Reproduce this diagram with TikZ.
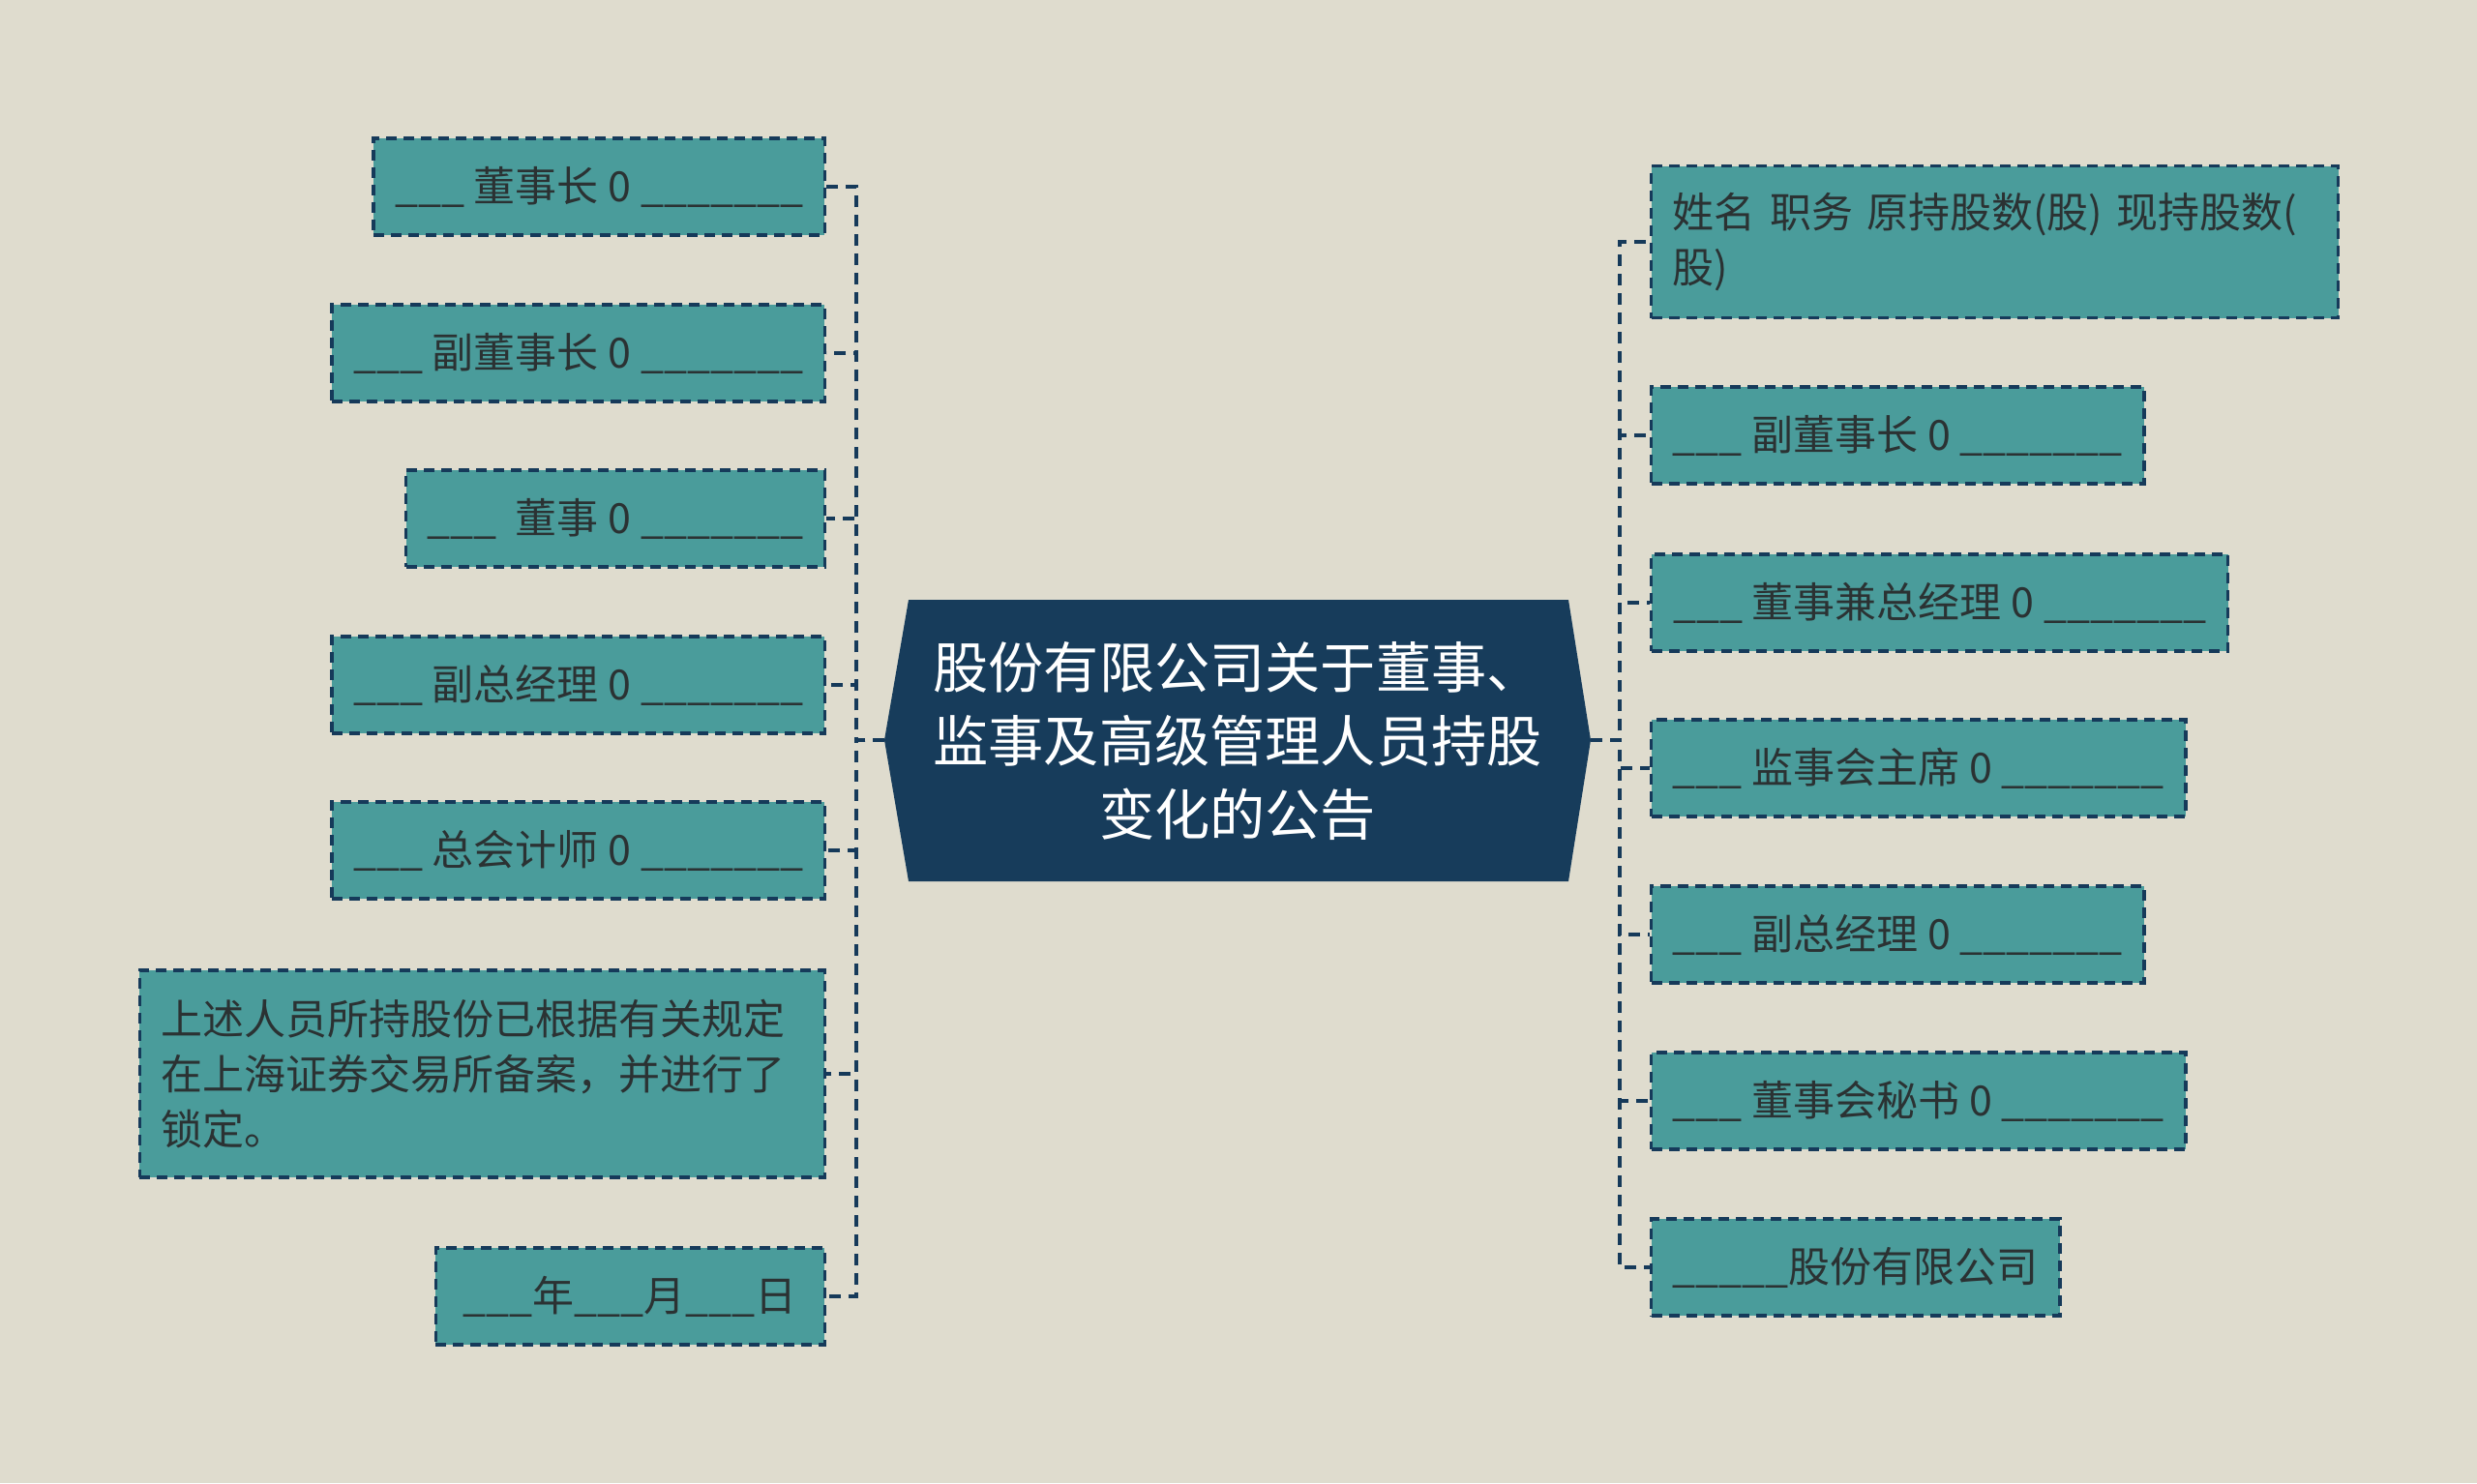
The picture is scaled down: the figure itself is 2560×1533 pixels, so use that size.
\documentclass[tikz,border=0pt]{standalone}
\usepackage{fontspec}
\newfontfamily\cjk{Noto Sans CJK SC}
\definecolor{paper}{HTML}{DFDCCE}
\definecolor{leaffill}{HTML}{4A9C9B}
\definecolor{navy}{HTML}{163A5A}
\definecolor{rootfill}{HTML}{173C5B}
\definecolor{leaftext}{HTML}{2B3233}
\tikzset{
  leaf/.style={draw=navy, fill=leaffill, line width=1.7pt, dash pattern=on 5.5pt off 3.5pt,
    text=leaftext, font=\cjk\fontsize{21.5pt}{28.5pt}\selectfont,
    minimum height=50pt, inner xsep=11pt, inner ysep=0pt},
  leafL/.style={leaf, anchor=east},
  leafR/.style={leaf, anchor=west},
  link/.style={draw=navy, line width=1.8pt, dash pattern=on 6pt off 4pt},
}
\begin{document}
\begin{tikzpicture}[x=0.5pt,y=-0.5pt]
        \fill[paper] (0,0) rectangle (2560,1533);
        \useasboundingbox (0,0) rectangle (2560,1533);

        % root
        \coordinate (rootL) at (914,765);
        \coordinate (rootR) at (1644,765);
        \fill[rootfill] (939,620) -- (1621,620) -- (rootR) -- (1621,911) -- (939,911) -- (rootL) -- cycle;
        \node[text=white, font=\cjk\fontsize{28.6pt}{38pt}\selectfont, align=center] (root) at (1279,766)
            {股份有限公司关于董事、\\监事及高级管理人员持股\\变化的公告};

        % left leaves
        \node[leafL, minimum width=232.5pt] (L1) at (854,193) {\_\_\_ 董事长 0 \_\_\_\_\_\_\_};
        \node[leafL, minimum width=254.5pt] (L2) at (854,365) {\_\_\_ 副董事长 0 \_\_\_\_\_\_\_};
        \node[leafL, minimum width=211.5pt] (L3) at (854,536) {\_\_\_ \ 董事 0 \_\_\_\_\_\_\_};
        \node[leafL, minimum width=254.5pt] (L4) at (854,708) {\_\_\_ 副总经理 0 \_\_\_\_\_\_\_};
        \node[leafL, minimum width=254.5pt] (L5) at (854,879) {\_\_\_ 总会计师 0 \_\_\_\_\_\_\_};
        \node[leafL, text width=332pt, align=left, minimum height=107pt] (L6) at (854,1110)
            {上述人员所持股份已根据有关规定\\在上海证券交易所备案，并进行了\\锁定。};
        \node[leafL, minimum width=201pt] (L7) at (854,1340) {\_\_\_年\_\_\_月\_\_\_日};

        % right leaves
        \node[leafR, text width=333pt, align=left, minimum height=78.5pt] (R1) at (1705,250)
            {姓名 职务 原持股数(股) 现持股数(\\股)};
        \node[leafR, minimum width=254.5pt] (R2) at (1705,450) {\_\_\_ 副董事长 0 \_\_\_\_\_\_\_};
        \node[leafR, minimum width=298pt] (R3) at (1705,623) {\_\_\_ 董事兼总经理 0 \_\_\_\_\_\_\_};
        \node[leafR, minimum width=276pt] (R4) at (1705,794) {\_\_\_ 监事会主席 0 \_\_\_\_\_\_\_};
        \node[leafR, minimum width=254.5pt] (R5) at (1705,966) {\_\_\_ 副总经理 0 \_\_\_\_\_\_\_};
        \node[leafR, minimum width=276pt] (R6) at (1705,1138) {\_\_\_ 董事会秘书 0 \_\_\_\_\_\_\_};
        \node[leafR, minimum width=208pt] (R7) at (1705,1310) {\_\_\_\_\_股份有限公司};

        % links
        \foreach \i in {1,...,7} {
            \draw[link] (rootL) -- ++(-29,0) |- (L\i.east);
            \draw[link] (rootR) -- ++(30,0) |- (R\i.west);
        }
\end{tikzpicture}
\end{document}
